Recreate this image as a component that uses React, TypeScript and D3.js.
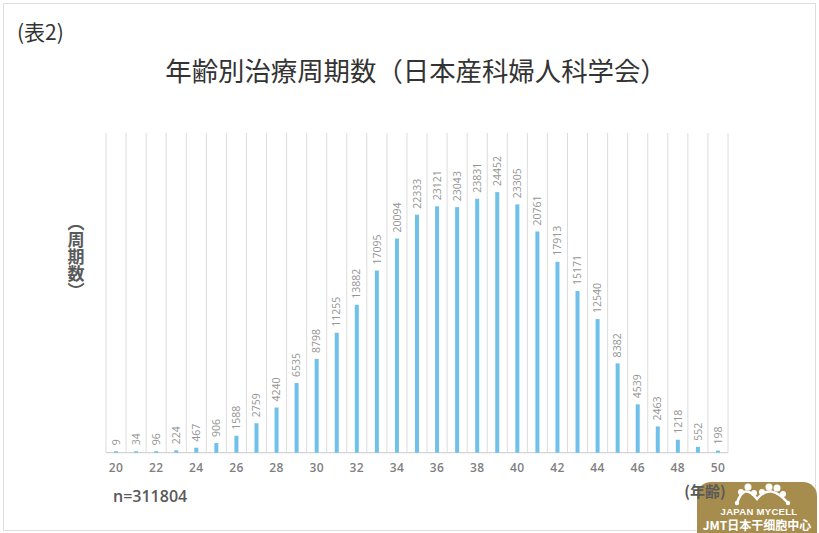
import React from "react";
import * as d3 from "d3";

const ages: number[] = [20,21,22,23,24,25,26,27,28,29,30,31,32,33,34,35,36,37,38,39,40,41,42,43,44,45,46,47,48,49,50];
const cycles: number[] = [9,34,96,224,467,906,1588,2759,4240,6535,8798,11255,13882,17095,20094,22333,23121,23043,23831,24452,23305,20761,17913,15171,12540,8382,4539,2463,1218,552,198];
const tickAges: number[] = [20,22,24,26,28,30,32,34,36,38,40,42,44,46,48,50];
const yMax = 30000;
const title = "年齢別治療周期数（日本産科婦人科学会）";
const tableLabel = "(表2)";
const yLabel = "（周期数）";
const xLabel = "(年齢)";
const totalLabel = "n=311804";

const W = 819, H = 533;
const left = 106, right = 728, top = 133, bottom = 452.7;

export default function App() {
  const x = d3.scaleBand<number>().domain(ages).range([left, right]).padding(0);
  const y = d3.scaleLinear().domain([0, yMax]).range([bottom, top]);
  const bw = 4;
  const boundaries = d3.range(ages.length + 1).map(i => left + i * x.step());
  const num = "'Open Sans', 'Noto Sans', sans-serif";
  const cjk = "'Noto Sans CJK JP', 'Noto Sans', sans-serif";

  return (
    <svg width={W} height={H} style={{ position: "absolute", left: 0, top: 0, background: "#fff" }}>
      <rect x={3.5} y={3.5} width={812} height={527} fill="#fff" stroke="#dedede" />
      <text x={17} y={40} fontFamily={cjk} fontSize={21} fill="#333">{tableLabel}</text>
      <text x={416} y={81} textAnchor="middle" fontFamily={cjk} fontSize={26.4} fill="#333">{title}</text>

      {boundaries.map((bx, i) => (
        <line key={"g" + i} x1={bx} x2={bx} y1={top} y2={bottom} stroke="#dcdcdc" strokeWidth={1} />
      ))}
      <line x1={left} x2={right} y1={bottom} y2={bottom} stroke="#d4d4d4" strokeWidth={1.2} />

      {ages.map((a, i) => {
        const cx = (x(a) as number) + x.step() / 2;
        const yt = Math.min(y(cycles[i]), bottom - 1.5);
        return (
          <g key={"b" + a}>
            <rect x={cx - bw / 2} y={yt} width={bw} height={bottom - yt} fill="#6FC1EA" />
            <text
              transform={`translate(${cx},${yt - 6}) rotate(-90)`}
              dy="0.35em"
              fontFamily={num}
              fontSize={10.5}
              fill="#959595"
            >{cycles[i]}</text>
          </g>
        );
      })}

      {tickAges.map(a => (
        <text key={"t" + a} x={(x(a) as number) + x.step() / 2} y={472} textAnchor="middle"
          fontFamily={num} fontSize={12} fontWeight={600} fill="#7f7f7f" letterSpacing={0.4}>{a}</text>
      ))}

      <text x={113} y={502} fontFamily={num} fontSize={16} fontWeight={600} fill="#595959">{totalLabel}</text>

      <text x={76} y={214} fontFamily={cjk} fontSize={17} fontWeight={700} fill="#595959"
        style={{ writingMode: "vertical-rl" }}>{yLabel}</text>

      <g>
        <rect x={697} y={482} width={120} height={70} rx={14} fill="#A68D4E" />
        <g fill="#fff" stroke="#fff">
          <path d="M737,503 Q744,482 757,499 Q770,482 788,503" fill="none" strokeWidth={2.5} />
          <circle cx={737} cy={503} r={2.2} stroke="none" />
          <circle cx={741} cy={492} r={3} stroke="none" />
          <circle cx={748} cy={487} r={3.5} stroke="none" />
          <circle cx={754} cy={493} r={3} stroke="none" />
          <circle cx={762} cy={492} r={3} stroke="none" />
          <circle cx={769} cy={487} r={3.5} stroke="none" />
          <circle cx={777} cy={488} r={3.5} stroke="none" />
          <circle cx={783} cy={494} r={3} stroke="none" />
          <circle cx={788} cy={503} r={2.2} stroke="none" />
        </g>
        <text x={759} y={515} textAnchor="middle" fontFamily="'Liberation Sans', Arial, sans-serif" fontSize={9.5} fontWeight={700} fill="#fff" letterSpacing={0.3}>JAPAN MYCELL</text>
        <text x={757} y={530} textAnchor="middle" fontFamily={cjk} fontSize={12} fontWeight={700} fill="#fff">JMT日本干细胞中心</text>
      </g>

      <text x={705} y={497} textAnchor="middle" fontFamily={cjk} fontSize={15} fontWeight={700} fill="#595959">{xLabel}</text>
    </svg>
  );
}
